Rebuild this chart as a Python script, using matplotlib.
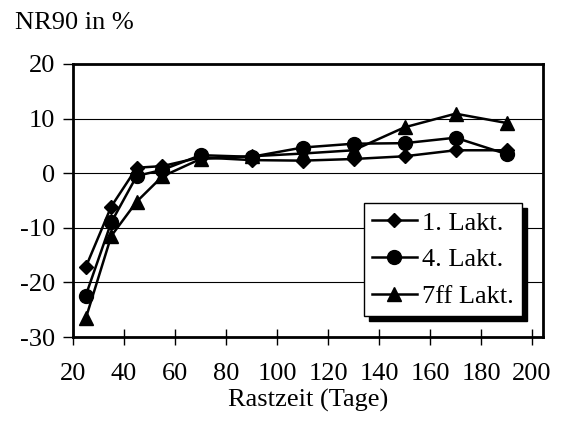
import matplotlib.pyplot as plt

plt.rcParams['font.family'] = ['Liberation Serif', 'DejaVu Serif']
plt.rcParams['axes.unicode_minus'] = False

# Rastzeit (Tage)
rastzeit = [25, 35, 45, 55, 70, 90, 110, 130, 150, 170, 190]
# NR90 in %
lakt1 = [-17.2, -6.1, 1.0, 1.3, 2.9, 2.4, 2.3, 2.6, 3.1, 4.2, 4.2]
lakt4 = [-22.4, -9.0, -0.5, 0.6, 3.3, 3.0, 4.7, 5.4, 5.5, 6.5, 3.5]
lakt7 = [-26.6, -11.5, -5.2, -0.6, 2.6, 3.1, 3.6, 4.2, 8.4, 10.9, 9.2]
labels = ['1. Lakt.', '4. Lakt.', '7ff Lakt.']

fig = plt.figure(figsize=(5.64, 4.23), dpi=100)
ax = fig.add_axes([73 / 564, 86 / 423, 470 / 564, 273 / 423])

ax.plot(rastzeit, lakt1, color='black', lw=1.8, marker='D', ms=7, label=labels[0])
ax.plot(rastzeit, lakt4, color='black', lw=1.8, marker='o', ms=10, label=labels[1])
ax.plot(rastzeit, lakt7, color='black', lw=1.8, marker='^', ms=10, label=labels[2])

ax.set_xlim(20, 204.3)
ax.set_ylim(-30, 20)
ax.set_xticks(range(20, 201, 20))
ax.set_yticks(range(-30, 21, 10))
ax.yaxis.grid(True, color='black', lw=0.8)
ax.set_axisbelow(True)

for s in ax.spines.values():
    s.set_linewidth(2)
ax.tick_params(axis='y', direction='out', length=7, width=1, labelsize=19, pad=6)
ax.tick_params(axis='x', direction='inout', length=11, width=1, labelsize=19, pad=13)

ax.set_xlabel('Rastzeit (Tage)', fontsize=19, labelpad=3)
fig.text(15 / 564, 1 - 23 / 423, 'NR90 in %', fontsize=19, va='center', ha='left')

# legend box with solid black drop shadow
leg = ax.legend(loc='lower right', bbox_to_anchor=(0.955, 0.077), borderaxespad=0,
                fontsize=19, fancybox=False, framealpha=1, edgecolor='black',
                handlelength=1.7, handletextpad=0.2, labelspacing=0.5, borderpad=0.3,
                shadow={'color': 'black', 'alpha': 1, 'ox': 3.6, 'oy': -3.6})
leg.get_frame().set_linewidth(1)

fig.savefig('out.png', dpi=100)
